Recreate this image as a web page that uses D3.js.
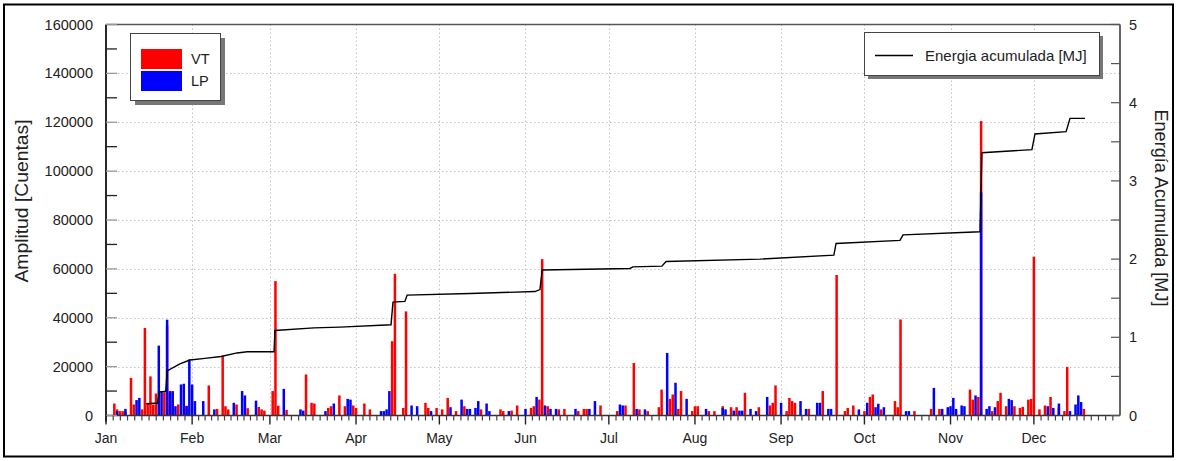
<!DOCTYPE html>
<html><head><meta charset="utf-8">
<script src="https://cdn.jsdelivr.net/npm/d3@7"></script>
<style>
html,body{margin:0;padding:0;background:#fff;}
svg{display:block;font-family:"Liberation Sans",Arial,sans-serif;}
</style></head>
<body><svg id="c" width="1177" height="461"></svg>
<script>
// ---- data (day of year offset from Jan 1) ----
const vtDay = [3,4,5,6,7,9,10,13,14,15,16,17,18,21,22,23,24,26,29,37,40,42,43,44,47,51,55,56,57,60,61,62,65,72,74,75,80,81,84,86,89,90,93,95,103,104,107,108,115,116,119,121,123,126,129,135,142,143,146,148,153,154,156,157,159,163,165,170,172,173,178,184,187,190,192,195,199,200,203,204,206,207,211,212,213,217,219,222,225,227,230,235,239,240,241,245,246,247,248,253,258,263,266,267,269,273,275,276,279,284,285,286,291,297,300,311,312,314,315,319,321,322,324,327,329,330,332,333,334,336,338,340,343,345,346,352];
const vtAmp = [4900,2500,1800,1800,1500,15400,4500,2500,35800,5000,16000,4500,9000,9500,36800,9000,9300,4500,4000,12300,2700,24500,3800,2500,4500,3000,3500,2500,2000,10000,55000,4000,2300,16800,5200,4900,3100,3800,8200,3800,4100,3100,4900,2500,30400,58000,3100,42600,5200,3100,3100,2500,7200,1800,3800,2500,2500,1800,2000,4100,3100,3800,6500,64000,3800,2500,2700,1800,2700,2700,4100,1800,4100,21500,2500,1800,3400,10600,6800,8600,2700,10000,1800,3800,3800,1800,1800,3800,3400,3400,9300,3400,4100,5200,12300,1800,7200,5900,5200,2700,10000,57500,1800,3100,4100,1800,7600,8600,2500,5900,3400,39300,1800,2700,2700,10600,6500,7600,120500,1800,5900,9300,3800,3800,3100,3500,6500,6800,65000,2500,4100,7600,3100,1800,19900,2700];
const lpDay = [4,7,11,12,19,20,22,23,24,25,27,28,29,30,31,32,35,39,46,49,50,54,64,70,71,79,82,87,88,99,100,101,102,110,112,117,124,128,130,131,133,134,137,138,145,151,155,158,160,162,169,174,176,185,186,191,194,202,205,209,216,222,223,226,228,229,232,234,238,243,250,252,256,257,260,261,271,274,277,278,280,288,289,298,301,303,304,305,306,308,309,313,315,317,318,320,325,326,339,341,343,347,349,350,351];
const lpAmp = [1800,2700,6300,7200,28600,10000,39200,10000,10000,3800,12700,13000,3800,22900,12700,5900,5900,2500,5200,10000,8200,6100,10900,2500,2000,1800,4900,6800,6500,1800,1800,2500,10000,4100,3800,1800,3400,6500,2700,2700,3100,5900,4900,1800,1800,2700,7600,4100,2700,2700,2700,2700,5900,4500,4100,2700,2500,25600,13400,6800,2700,3100,2500,2000,2000,2000,2700,1800,7600,5200,5900,2700,5200,5200,2700,2700,2500,5200,3400,4800,3400,1800,1800,11300,2700,3400,3800,7200,2700,4100,3800,8200,91300,2700,3800,3400,6800,6300,3800,3100,4900,1800,4500,8200,5500];
const energyDay = [14.5,18.5,19.2,21.5,22,26.6,30.2,35.6,41.4,47.2,50.8,60.5,60.8,74.9,84.2,102.6,103.3,107.6,108.4,131,154.4,156.2,157,188.6,189.7,200.1,201.6,235.4,262,262.8,285.8,286.9,314.6,315.3,333.3,334.4,345.6,347,352.4];
const energyMJ = [0.15,0.16,0.30,0.31,0.57,0.66,0.71,0.73,0.755,0.80,0.815,0.815,1.087,1.12,1.13,1.16,1.45,1.46,1.54,1.56,1.585,1.61,1.86,1.88,1.90,1.91,1.97,2.00,2.05,2.20,2.24,2.31,2.35,3.36,3.40,3.60,3.63,3.80,3.80];
const ampTicks = [0,20000,40000,60000,80000,100000,120000,140000,160000];
const mjTicks = [0,1,2,3,4,5];
const seriesNames = ["VT","LP"];
const lineName = "Energia acumulada [MJ]";
const yTitle = "Amplitud [Cuentas]";
const y2Title = "Energía Acumulada [MJ]";

// ---- layout ----
const L = 106, R = 1120, T = 24.5, B = 415.5;
const year = 2015;
const t0 = new Date(Date.UTC(year,0,1));
const dayToDate = d => new Date(t0.getTime() + d*86400000);

const svg = d3.select("#c");
const x = d3.scaleUtc().domain([t0, new Date(Date.UTC(year+1,0,1))]).range([L, R]);
const y = d3.scaleLinear().domain([0,160000]).range([B, T]);
const y2 = d3.scaleLinear().domain([0,5]).range([B, T]);

// outer frame
svg.append("rect").attr("x",4).attr("y",4.5).attr("width",1169).attr("height",452)
  .attr("fill","#fff").attr("stroke","#000").attr("stroke-width",2);

const months = d3.utcMonth.range(t0, new Date(Date.UTC(year+1,0,1)));

// grid
const grid = svg.append("g").attr("stroke","#c4c4c4").attr("stroke-width",1).attr("stroke-dasharray","1.5,2.5");
ampTicks.filter(v=>v>0 && v<160000).forEach(v=>{
  grid.append("line").attr("x1",L).attr("x2",R).attr("y1",Math.round(y(v))+0.5).attr("y2",Math.round(y(v))+0.5);
});
months.slice(1).forEach(m=>{
  const xx = Math.round(x(m))+0.5;
  grid.append("line").attr("x1",xx).attr("x2",xx).attr("y1",T).attr("y2",B);
});

// bars
const bw = 2.5;
svg.append("g").selectAll("rect").data(vtDay.map((d,i)=>({d,v:vtAmp[i]}))).join("rect")
  .attr("x",p=>x(dayToDate(p.d))-bw/2).attr("width",bw)
  .attr("y",p=>y(p.v)).attr("height",p=>B-y(p.v)).attr("fill","#ff0000");
svg.append("g").selectAll("rect").data(lpDay.map((d,i)=>({d,v:lpAmp[i]}))).join("rect")
  .attr("x",p=>x(dayToDate(p.d))-bw/2).attr("width",bw)
  .attr("y",p=>y(p.v)).attr("height",p=>B-y(p.v)).attr("fill","#0000ff");

// energy line
const line = d3.line().x(p=>x(dayToDate(p[0]))).y(p=>y2(p[1]));
svg.append("path").datum(energyDay.map((d,i)=>[d,energyMJ[i]]))
  .attr("d",line).attr("fill","none").attr("stroke","#000").attr("stroke-width",1.4);

// axes frame
const ax = svg.append("g");
ax.append("line").attr("x1",L).attr("x2",R).attr("y1",T).attr("y2",T).attr("stroke","#555").attr("stroke-width",1.5);
ax.append("line").attr("x1",L).attr("x2",R).attr("y1",B).attr("y2",B).attr("stroke","#333").attr("stroke-width",1.5);
ax.append("line").attr("x1",L).attr("x2",L).attr("y1",T).attr("y2",B+6).attr("stroke","#111").attr("stroke-width",1.8);
ax.append("line").attr("x1",R).attr("x2",R).attr("y1",T).attr("y2",B).attr("stroke","#333").attr("stroke-width",1.5);

// left ticks (inward)
d3.range(0,160001,10000).forEach(v=>{
  const major = v % 20000 === 0;
  ax.append("line").attr("x1",L).attr("x2",L+11).attr("y1",y(v)).attr("y2",y(v))
    .attr("stroke", major ? "#999" : "#222").attr("stroke-width",1.3);
});
ampTicks.forEach(v=>{
  ax.append("text").attr("x",93).attr("y",y(v)+5).attr("text-anchor","end")
    .attr("font-size","14.5px").attr("fill","#222").text(v);
});
// right ticks (inward)
d3.range(0,5.01,0.5).forEach(v=>{
  ax.append("line").attr("x1",R-9).attr("x2",R).attr("y1",y2(v)).attr("y2",y2(v))
    .attr("stroke","#555").attr("stroke-width",1.2);
});
mjTicks.forEach(v=>{
  ax.append("text").attr("x",1129).attr("y",y2(v)+5).attr("text-anchor","start")
    .attr("font-size","14.5px").attr("fill","#222").text(v);
});
// bottom ticks
months.forEach((m,i)=>{
  const x0 = x(m), x1 = x(i<11 ? months[i+1] : new Date(Date.UTC(year+1,0,1)));
  ax.append("line").attr("x1",x0).attr("x2",x0).attr("y1",B).attr("y2",B+9).attr("stroke","#222").attr("stroke-width",1.4);
  for(let k=1;k<12;k++){
    const xx = x0 + (x1-x0)*k/12;
    ax.append("line").attr("x1",xx).attr("x2",xx).attr("y1",B).attr("y2",B+5).attr("stroke","#444").attr("stroke-width",1.2);
  }
  ax.append("text").attr("x",x0).attr("y",443).attr("text-anchor","middle")
    .attr("font-size","14px").attr("fill","#222").text(d3.utcFormat("%b")(m));
});

// axis titles
svg.append("text").attr("transform","translate(28,201) rotate(-90)").attr("text-anchor","middle")
  .attr("font-size","18px").attr("fill","#222").attr("textLength",163).attr("lengthAdjust","spacingAndGlyphs").text(yTitle);
svg.append("text").attr("transform","translate(1155,208) rotate(90)").attr("text-anchor","middle")
  .attr("font-size","18px").attr("fill","#222").attr("textLength",197).attr("lengthAdjust","spacingAndGlyphs").text(y2Title);

// legend 1
const lg = svg.append("g");
lg.append("rect").attr("x",135).attr("y",38).attr("width",90).attr("height",67).attr("fill","#777");
lg.append("rect").attr("x",130.5).attr("y",33.5).attr("width",90).attr("height",67).attr("fill","#fff").attr("stroke","#444").attr("stroke-width",1);
const colors = ["#ff0000","#0000ff"];
seriesNames.forEach((s,i)=>{
  lg.append("rect").attr("x",141).attr("y",49+i*22).attr("width",41).attr("height",20).attr("fill",colors[i]);
  lg.append("text").attr("x",191).attr("y",64+i*22).attr("font-size","14.5px").attr("fill","#222").text(s);
});

// legend 2
const lg2 = svg.append("g");
lg2.append("rect").attr("x",868).attr("y",36).attr("width",235).attr("height",43).attr("fill","#777");
lg2.append("rect").attr("x",864.5).attr("y",32.5).attr("width",235).attr("height",43).attr("fill","#fff").attr("stroke","#444").attr("stroke-width",1);
lg2.append("line").attr("x1",875).attr("x2",913).attr("y1",55.5).attr("y2",55.5).attr("stroke","#000").attr("stroke-width",1.4);
lg2.append("text").attr("x",925).attr("y",60.5).attr("font-size","15px").attr("fill","#222").text(lineName);
</script></body></html>
